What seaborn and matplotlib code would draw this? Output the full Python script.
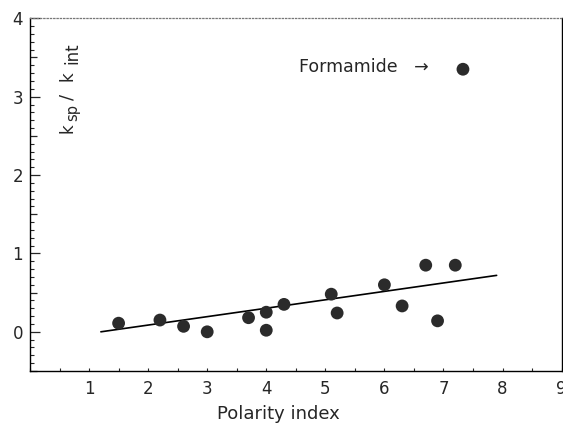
import matplotlib
matplotlib.use("Agg")
import matplotlib.pyplot as plt
import seaborn as sns
from matplotlib.ticker import MultipleLocator, FuncFormatter

# Solvent polarity index vs. k_sp / k_int ratio (last entry is formamide)
polarity = [1.5, 2.2, 2.6, 3.0, 3.7, 4.0, 4.0, 4.3, 5.1, 5.2, 6.0, 6.3, 6.7, 6.9, 7.2, 7.33]
ratio = [0.11, 0.15, 0.07, 0.00, 0.18, 0.25, 0.02, 0.35, 0.48, 0.24, 0.60, 0.33, 0.85, 0.14, 0.85, 3.35]

# Linear fit drawn through the non-formamide points (end points)
fit_x = [1.2, 7.9]
fit_y = [0.0, 0.72]

sns.set_style("ticks")
plt.rcParams['font.family'] = ['DejaVu Sans']

W, H = 563, 423
fig = plt.figure(figsize=(W / 100, H / 100), dpi=100)
ax = fig.add_axes([30 / W, 52 / H, 531.6 / W, 352.7 / H])

sns.lineplot(x=fit_x, y=fit_y, ax=ax, color="black", linewidth=1.2)
sns.scatterplot(x=polarity, y=ratio, ax=ax, s=85, color="#2b2b2b",
                edgecolor="none", zorder=3)

ax.set_xlim(0, 9)
ax.set_ylim(-0.5, 4)

# x axis: labels on integers, tiny inward ticks every 0.5
ax.xaxis.set_major_locator(MultipleLocator(1))
ax.xaxis.set_minor_locator(MultipleLocator(0.5))
ax.xaxis.set_major_formatter(FuncFormatter(lambda v, p: "" if v < 0.5 else f"{v:.0f}"))
ax.tick_params(axis="x", which="both", direction="in", length=2.5, width=0.8,
               labelsize=12, pad=6.5)

# y axis: long ticks on integers, medium on halves, short every 0.1
ax.yaxis.set_major_locator(MultipleLocator(0.5))
ax.yaxis.set_minor_locator(MultipleLocator(0.1))
ax.yaxis.set_major_formatter(FuncFormatter(lambda v, p: f"{v:.0f}" if abs(v - round(v)) < 1e-6 else ""))
ax.tick_params(axis="y", which="major", direction="in", length=7.5, width=0.9,
               labelsize=12, pad=5)
ax.tick_params(axis="y", which="minor", direction="in", length=3, width=0.8)
fig.canvas.draw()
for t in ax.yaxis.get_major_ticks():
    v = t.get_loc()
    if abs(v - round(v)) > 1e-6:
        t.tick1line.set_markersize(5)

for side in ["left", "bottom", "right"]:
    ax.spines[side].set_color("black")
    ax.spines[side].set_linewidth(1.0)
ax.spines["top"].set_color("#777777")
ax.spines["top"].set_linewidth(0.9)
ax.spines["top"].set_linestyle(":")

ax.set_xlabel("Polarity index", fontsize=13)
ax.xaxis.set_label_coords(0.468, -0.095)
ax.set_ylabel("")

# y label "k_sp / k_int" written inside the axes, with large subscripts
label_parts = [
    ("k", 72, 133, 12),
    ("sp", 77, 121, 10.5),
    ("/", 72, 100, 13),
    ("k", 72, 81, 12),
    ("int", 77, 64, 12),
]
for txt, px, py, size in label_parts:
    fig.text(px / W, 1 - py / H, txt, fontsize=size, rotation=90,
             rotation_mode="anchor", ha="left", va="baseline")

ax.text(4.55, 3.32, "Formamide   \u2192", fontsize=12.5, ha="left", va="baseline")

fig.savefig("out.png", dpi=100)
